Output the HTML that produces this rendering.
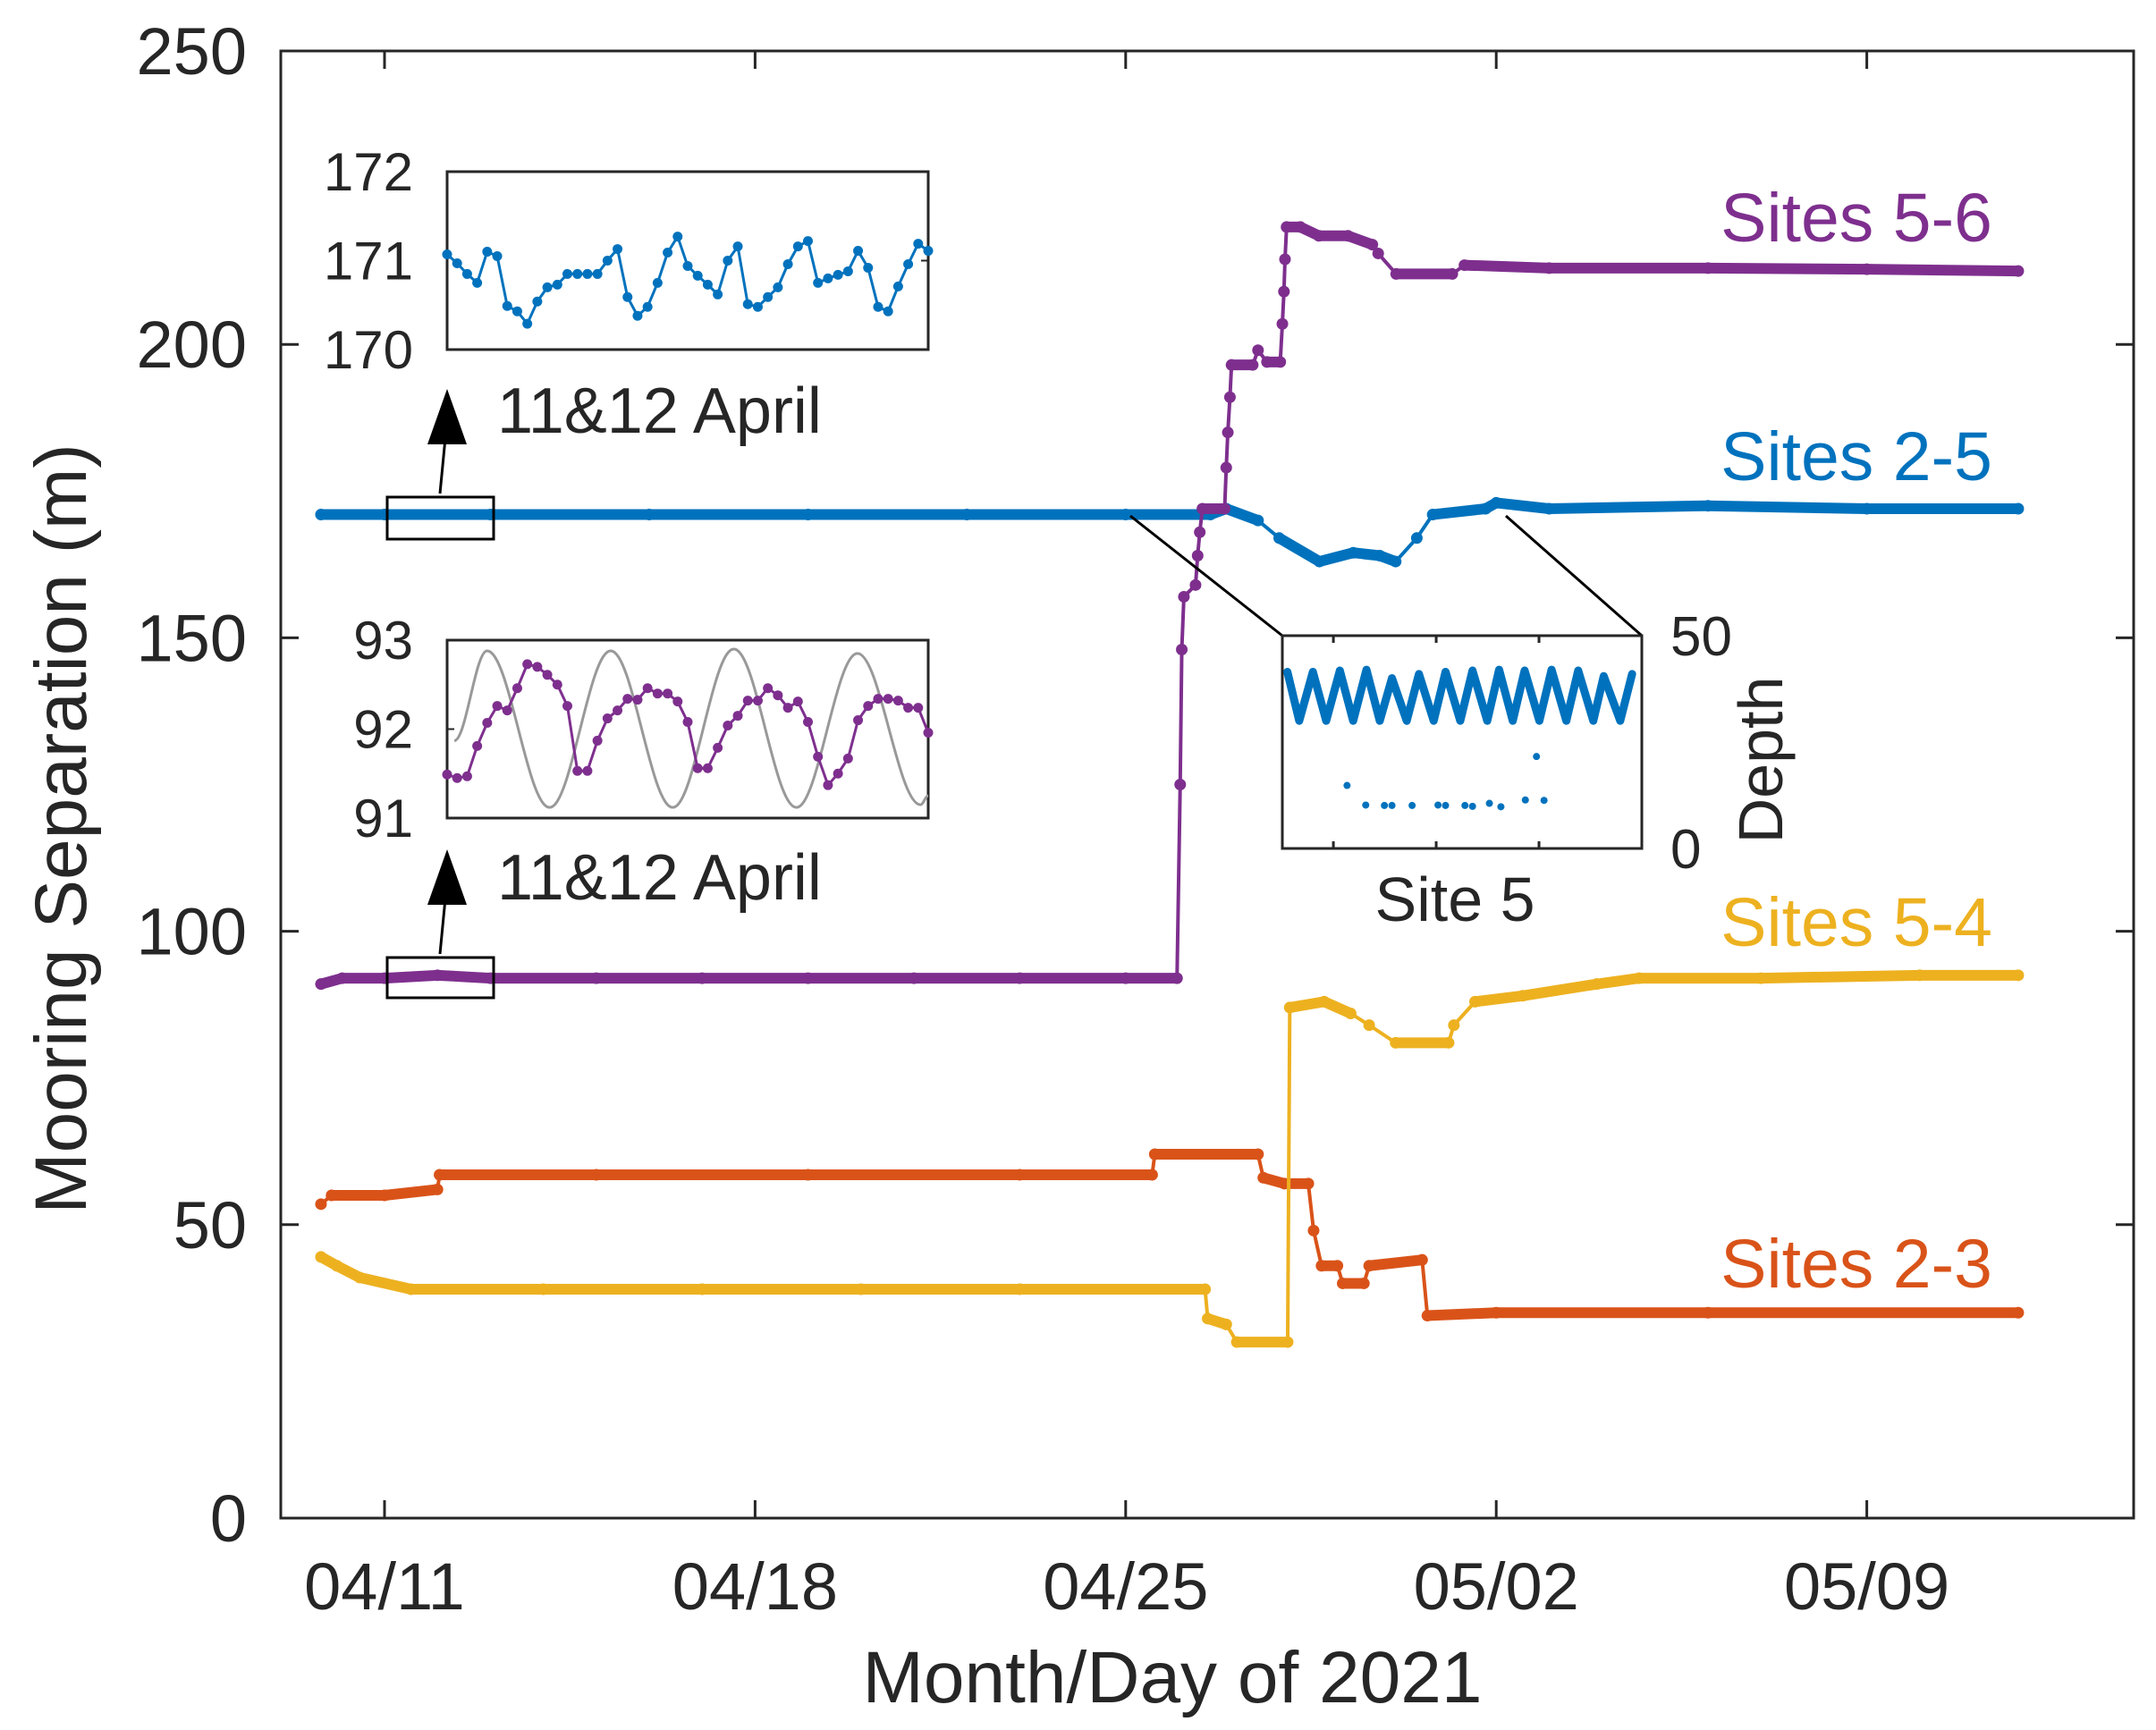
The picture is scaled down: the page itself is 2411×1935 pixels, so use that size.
<!DOCTYPE html>
<html><head><meta charset="utf-8"><style>
html,body{margin:0;padding:0;background:#fff}
svg{display:block}
text{font-family:"Liberation Sans",Arial,sans-serif;fill:#262626}
</style></head><body>
<svg id="chart" width="2411" height="1935" viewBox="0 0 2411 1935" xmlns="http://www.w3.org/2000/svg"></svg>
<script>
// ---- main chart data (x = days since 04/11, y = metres) ----
const xTickLabels = ["04/11","04/18","04/25","05/02","05/09"];
const xTickDays = [0,7,14,21,28];
const yTickLabels = [0,50,100,150,200,250];
const s56Days = [-1.2,-0.8,0,1,2,4,6,8,10,12,14,14.97,15.03,15.06,15.1,15.32,15.36,15.40,15.45,15.87,15.9,15.93,15.97,16.0,16.4,16.5,16.67,16.92,16.96,16.99,17.01,17.04,17.3,17.65,18.2,18.66,18.77,19.11,20.17,20.4,22,25,28,30.86];
const s56Vals = [91,92,92,92.5,92,92,92,92,92,92,92,92,125,148,157,159,164,168,172,172,179,185,191,196.5,196.5,199,197,197,203.5,209,214.5,220,220,218.5,218.5,217,215.5,212,212,213.5,213,213,212.8,212.5];
const s25Days = [-1.2,0,2,5,8,11,14,15.6,15.9,16.5,16.9,17.66,18.3,18.8,19.1,19.5,19.8,20.8,21,22,25,28,30.86];
const s25Vals = [171,171,171,171,171,171,171,171,172,170,167,163,164.5,164,163,167,171,172,173,172,172.5,172,172];
const s54Days = [-1.2,-0.9,-0.47,0.5,3,6,9,12,15.5,15.55,15.9,16.1,17.06,17.1,17.75,18.25,18.6,19.1,20.1,20.2,20.6,21.5,22.9,23.7,26,29,30.86];
const s54Vals = [44.5,43,41,39,39,39,39,39,39,34,33,30,30,87,88,86,84,81,81,84,88,89,91,92,92,92.5,92.5];
const s23Days = [-1.2,-1.0,0,1.0,1.04,4,8,12,14.5,14.55,16.5,16.6,17.0,17.45,17.55,17.7,18.0,18.1,18.5,18.6,19.6,19.7,21,25,30.86];
const s23Vals = [53.5,55,55,56,58.5,58.5,58.5,58.5,58.5,62,62,58,57,57,49,43,43,40,40,43,44,34.5,35,35,35];
// ---- inset data ----
const inset25Vals = [171.07,170.97,170.85,170.75,171.10,171.05,170.49,170.43,170.29,170.54,170.70,170.73,170.85,170.85,170.85,170.85,171.0,171.13,170.59,170.38,170.48,170.75,171.09,171.27,170.94,170.83,170.73,170.62,171.0,171.16,170.51,170.48,170.59,170.70,170.96,171.16,171.22,170.75,170.80,170.84,170.88,171.11,170.92,170.48,170.43,170.71,170.96,171.19,171.11];
const inset56Vals = [91.49,91.45,91.47,91.81,92.07,92.26,92.21,92.46,92.73,92.70,92.61,92.50,92.26,91.53,91.53,91.87,92.12,92.21,92.34,92.33,92.46,92.40,92.40,92.31,92.08,91.56,91.56,91.79,92.04,92.15,92.32,92.32,92.46,92.38,92.24,92.31,92.08,91.69,91.37,91.50,91.67,92.10,92.26,92.34,92.34,92.32,92.24,92.24,91.96];
const tideFrac = [0.015,0.083,0.213,0.34,0.469,0.596,0.726,0.853,0.984,1.0];
const tideVals = [91.87,92.88,91.12,92.88,91.12,92.9,91.12,92.85,91.15,91.25];
const depthPeakFrac = [0.014,0.085,0.16,0.234,0.305,0.38,0.454,0.529,0.603,0.674,0.749,0.823,0.894,0.973];
const depthPeakVals = [41.5,41.5,41.8,42,40,41,41.5,41.8,42,41.8,42,41.8,40.5,41];
const depthTroughFrac = [0.047,0.122,0.197,0.271,0.346,0.421,0.495,0.57,0.641,0.715,0.79,0.865,0.94];
const depthTroughVals = [30,30,30,30,30,30,30,30,30,30,30,30,30];
const depthLowFrac = [0.18,0.232,0.284,0.305,0.361,0.433,0.454,0.508,0.529,0.576,0.608,0.676,0.728,0.707];
const depthLowVals = [14.8,10.2,10.1,10.1,10.1,10.2,10.1,10.1,9.9,10.6,9.8,11.4,11.3,21.6];

const NS="http://www.w3.org/2000/svg";
const svg=document.getElementById('chart');
function mk(tag,attrs,parent){const e=document.createElementNS(NS,tag);for(const k in attrs)e.setAttribute(k,attrs[k]);(parent||svg).appendChild(e);return e;}
const L=314,R=2386,T=57,B=1698;
const xs=d=>430+d*59.2;
const ys=v=>B-(v/250)*(B-T);
const AX='#262626';

const box=mk('rect',{x:L,y:T,width:R-L,height:B-T,fill:'none',stroke:AX,'stroke-width':3});


xTickDays.forEach((d,i)=>{
  const g=mk('g',{});
  
  
  mk('line',{x1:xs(d),x2:xs(d),y1:B,y2:B-20,stroke:AX,'stroke-width':3},g);
  mk('line',{x1:xs(d),x2:xs(d),y1:T,y2:T+20,stroke:AX,'stroke-width':3},g);
  const t=mk('text',{x:xs(d),y:1800,'font-size':74,'text-anchor':'middle'},g);t.textContent=xTickLabels[i];
});
yTickLabels.forEach(v=>{
  const g=mk('g',{});
  
  
  mk('line',{x1:L,x2:L+20,y1:ys(v),y2:ys(v),stroke:AX,'stroke-width':3},g);
  mk('line',{x1:R,x2:R-20,y1:ys(v),y2:ys(v),stroke:AX,'stroke-width':3},g);
  const t=mk('text',{x:276,y:ys(v)+26,'font-size':74,'text-anchor':'end'},g);t.textContent=v;
});
let t=mk('text',{x:1311,y:1904,'font-size':82,'text-anchor':'middle'});t.textContent='Month/Day of 2021';

t=mk('text',{x:0,y:0,'font-size':82,'text-anchor':'middle',transform:'translate(96,927) rotate(-90)'});t.textContent='Mooring Separation (m)';


function series(days,vals,color,name){
  const g=mk('g',{});
  
  
  const pts=days.map((d,i)=>xs(d)+','+ys(vals[i])).join(' ');
  mk('polyline',{points:pts,fill:'none',stroke:color,'stroke-width':4,'stroke-linejoin':'round'},g);
  for(let i=0;i<days.length-1;i++){
    const dx=xs(days[i+1])-xs(days[i]), dy=ys(vals[i+1])-ys(vals[i]);
    if(Math.abs(dy)<Math.abs(dx)*0.6){
      mk('line',{x1:xs(days[i]),y1:ys(vals[i]),x2:xs(days[i+1]),y2:ys(vals[i+1]),stroke:color,'stroke-width':12,'stroke-linecap':'round'},g);
    }
  }
  days.forEach((d,i)=>{
    const c=mk('circle',{cx:xs(d),cy:ys(vals[i]),r:6.5,fill:color},g);
    
    
  });
}
series(s25Days,s25Vals,'#0072BD','series-sites-2-5');
series(s23Days,s23Vals,'#D95319','series-sites-2-3');
series(s54Days,s54Vals,'#EDB120','series-sites-5-4');
series(s56Days,s56Vals,'#7E2F8E','series-sites-5-6');

[['Sites 5-6',270,'#7E2F8E'],['Sites 2-5',537,'#0072BD'],['Sites 5-4',1058,'#EDB120'],['Sites 2-3',1440,'#D95319']].forEach(a=>{
  const e=mk('text',{x:2228,y:a[1],'font-size':77,'text-anchor':'end',style:'fill:'+a[2]});e.textContent=a[0];
  
  
});

[[556,603,'zoom-box-sites-2-5',435],[1071,1116,'zoom-box-sites-5-6',950]].forEach(a=>{
  const g=mk('g',{});
  
  
  mk('rect',{x:433,y:a[0],width:119,height:a[1]-a[0],fill:'none',stroke:'#000','stroke-width':3},g);
  mk('line',{x1:492,y1:a[0]-4,x2:498,y2:a[3]+55,stroke:'#000','stroke-width':3},g);
  mk('polygon',{points:`500,${a[3]} 478,${a[3]+62} 522,${a[3]+62}`,fill:'#000'},g);
});

function inset(x0,y0,x1,y1,name){
  const g=mk('g',{});
  
  
  mk('rect',{x:x0,y:y0,width:x1-x0,height:y1-y0,fill:'#fff',stroke:AX,'stroke-width':3},g);
  return g;
}
{
  const x0=500,x1=1038,y0=192,y1=391;
  const g=inset(x0,y0,x1,y1,'inset-sites-2-5');
  const iy=v=>y1-(v-170)/2*(y1-y0);
  const ix=i=>x0+i*(x1-x0)/(inset25Vals.length-1);
  mk('polyline',{points:inset25Vals.map((v,i)=>ix(i)+','+iy(v)).join(' '),fill:'none',stroke:'#0072BD','stroke-width':3},g);
  inset25Vals.forEach((v,i)=>{const c=mk('circle',{cx:ix(i),cy:iy(v),r:5.5,fill:'#0072BD'},g);});
  [170,171,172].forEach(v=>{const e=mk('text',{x:462,y:iy(v)+21,'font-size':60,'text-anchor':'end'},g);e.textContent=v;mk('line',{x1:x1,x2:x1-8,y1:iy(v),y2:iy(v),stroke:AX,'stroke-width':2},g);});
  const e=mk('text',{x:556,y:484,'font-size':72},g);e.textContent='11&12 April';
}
{
  const x0=500,x1=1038,y0=716,y1=915;
  const g=inset(x0,y0,x1,y1,'inset-sites-5-6');
  const iy=v=>y1-(v-91)/2*(y1-y0);
  const ix=f=>x0+f*(x1-x0);
  let d='M'+ix(tideFrac[0])+','+iy(tideVals[0]);
  for(let i=1;i<tideFrac.length;i++){
    const xa=ix(tideFrac[i-1]),xb=ix(tideFrac[i]),m=(xb-xa)*0.36;
    d+=` C${xa+m},${iy(tideVals[i-1])} ${xb-m},${iy(tideVals[i])} ${xb},${iy(tideVals[i])}`;
  }
  const tp=mk('path',{d:d,fill:'none',stroke:'#999','stroke-width':3},g);
  
  const n=inset56Vals.length;
  mk('polyline',{points:inset56Vals.map((v,i)=>ix(i/(n-1))+','+iy(v)).join(' '),fill:'none',stroke:'#7E2F8E','stroke-width':3},g);
  inset56Vals.forEach((v,i)=>{const c=mk('circle',{cx:ix(i/(n-1)),cy:iy(v),r:5.5,fill:'#7E2F8E'},g);});
  [91,92,93].forEach(v=>{const e=mk('text',{x:462,y:iy(v)+21,'font-size':60,'text-anchor':'end'},g);e.textContent=v;mk('line',{x1:x0,x2:x0+8,y1:iy(v),y2:iy(v),stroke:AX,'stroke-width':2},g);});
  const e=mk('text',{x:556,y:1006,'font-size':72},g);e.textContent='11&12 April';
}
{
  mk('line',{x1:1264,y1:577,x2:1434,y2:711,stroke:'#000','stroke-width':3});
  mk('line',{x1:1684,y1:577,x2:1836,y2:711,stroke:'#000','stroke-width':3});
  const x0=1434,x1=1836,y0=711,y1=949;
  const g=inset(x0,y0,x1,y1,'inset-depth-site-5');
  const iy=v=>y1-v/50*(y1-y0);
  const ix=f=>x0+f*(x1-x0);
  const all=[];
  depthPeakFrac.forEach((f,i)=>all.push([f,depthPeakVals[i]]));
  depthTroughFrac.forEach((f,i)=>all.push([f,depthTroughVals[i]]));
  all.sort((a,b)=>a[0]-b[0]);
  const p=mk('polyline',{points:all.map(a=>ix(a[0])+','+iy(a[1])).join(' '),fill:'none',stroke:'#0072BD','stroke-width':9,'stroke-linejoin':'round','stroke-linecap':'round'},g);
  
  depthLowFrac.forEach((f,i)=>{const c=mk('circle',{cx:ix(f),cy:iy(depthLowVals[i]),r:4,fill:'#0072BD'},g);});
  [0.142,0.428,0.714].forEach(f=>{mk('line',{x1:ix(f),x2:ix(f),y1:y1,y2:y1-8,stroke:AX,'stroke-width':3},g);mk('line',{x1:ix(f),x2:ix(f),y1:y0,y2:y0+8,stroke:AX,'stroke-width':3},g);});
  [0,50].forEach(v=>{const e=mk('text',{x:1868,y:iy(v)+22,'font-size':62},g);e.textContent=v;});
  let e=mk('text',{x:1627,y:1030,'font-size':70,'text-anchor':'middle'},g);e.textContent='Site 5';
  e=mk('text',{x:0,y:0,'font-size':70,'text-anchor':'middle',transform:'translate(1993,850) rotate(-90)'},g);e.textContent='Depth';
}
</script>
</body></html>
